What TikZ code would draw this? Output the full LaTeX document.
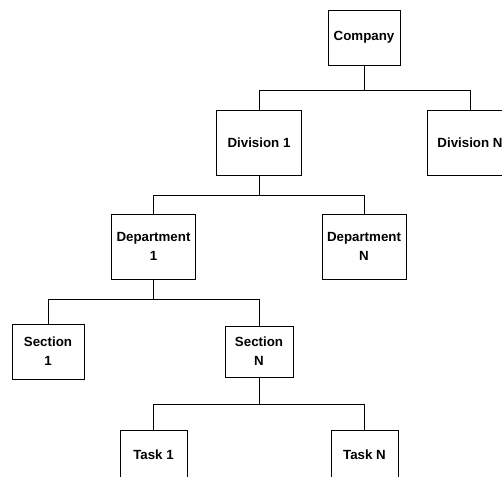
\documentclass[tikz,border=0pt]{standalone}
\usepackage{fontspec}
\setmainfont{Liberation Sans}
\begin{document}
\begin{tikzpicture}[x=1pt,y=-1pt,
  unit/.style={draw=black, line width=0.8pt, fill=white, rectangle,
    inner sep=0pt, align=center, font=\fontsize{13.3}{19}\selectfont\bfseries},
  link/.style={draw=black, line width=0.8pt}]
  \useasboundingbox (0,0) rectangle (502,476);
  \clip (0,0) rectangle (502,476);

  % organisation units
  \node[unit, minimum width=72pt, minimum height=55pt] (company) at (364,37.5) {Company};
  \node[unit, minimum width=85pt, minimum height=65pt] (div1) at (259,142.5) {Division 1};
  \node[unit, minimum width=86pt, minimum height=65pt] (divN) at (470,142.5) {Division N};
  \node[unit, minimum width=84pt, minimum height=65pt] (dep1) at (153.5,246.5) {Department\\1};
  \node[unit, minimum width=84pt, minimum height=65pt] (depN) at (364,246.5) {Department\\N};
  \node[unit, minimum width=72pt, minimum height=55pt] (sec1) at (48,351.5) {Section\\1};
  \node[unit, minimum width=68pt, minimum height=51pt] (secN) at (259,351.5) {Section\\N};
  \node[unit, minimum width=67pt, minimum height=50pt] (task1) at (153.5,455) {Task 1};
  \node[unit, minimum width=67pt, minimum height=50pt] (taskN) at (364.5,455) {Task N};

  % reporting lines
  \draw[link] (company.south) -- ++(0,25) -| (div1.north);
  \draw[link] (company.south) -- ++(0,25) -| (divN.north);
  \draw[link] (div1.south) -- ++(0,20) -| (dep1.north);
  \draw[link] (div1.south) -- ++(0,20) -| (depN.north);
  \draw[link] (dep1.south) -- ++(0,20) -| (sec1.north);
  \draw[link] (dep1.south) -- ++(0,20) -| (secN.north);
  \draw[link] (secN.south) -- ++(0,27) -| (task1.north);
  \draw[link] (secN.south) -- ++(0,27) -| (taskN.north);
\end{tikzpicture}
\end{document}
